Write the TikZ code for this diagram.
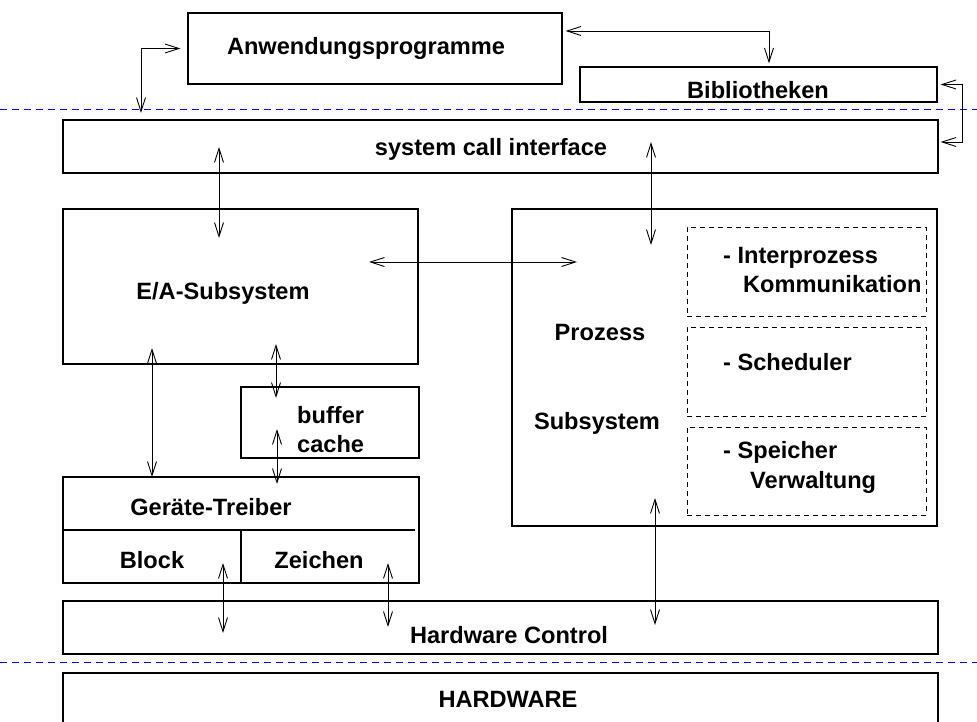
\documentclass[tikz,border=0pt]{standalone}
\usepackage{fontspec}
\setmainfont{Liberation Sans}
\usetikzlibrary{arrows.meta}

\tikzset{
  box/.style={draw, line width=1.2pt, inner sep=0, minimum width=#1},
  subbox/.style={draw, dashed, dash pattern=on 5pt off 4pt, line width=0.9pt, inner sep=0},
  txt/.style={inner sep=0, anchor=base, font=\bfseries\fontsize{23.6}{29}\selectfont},
  ltxt/.style={txt, anchor=base west},
  dbl/.style={{Straight Barb[length=14pt,width=9pt]}-{Straight Barb[length=14pt,width=9pt]}, line width=0.9pt},
  sep/.style={blue, line width=0.9pt, dash pattern=on 7pt off 5pt}
}

\begin{document}
\begin{tikzpicture}[x=1pt, y=-1pt]
    \useasboundingbox (0,0) rectangle (977,722);

    % boxes
    \node[box=374, minimum height=71] (anw) at (375,48.5) {};
    \node[box=357, minimum height=35] (bib) at (758.5,84.5) {};
    \node[box=875, minimum height=53] (sci) at (500.5,146.5) {};
    \node[box=355, minimum height=155] (ea) at (240.5,286.5) {};
    \node[box=425, minimum height=317] (proz) at (724.5,367.5) {};
    \node[subbox, minimum width=239, minimum height=89] (ipc) at (806.5,271.5) {};
    \node[subbox, minimum width=239, minimum height=89] (sched) at (806.5,371.5) {};
    \node[subbox, minimum width=239, minimum height=88] (mem) at (806.5,471) {};
    \node[box=178, minimum height=71] (buf) at (330,422.5) {};
    \node[box=356, minimum height=106] (drv) at (241,530) {};
    \node[box=875, minimum height=53] (hwc) at (500.5,627.5) {};
    \node[box=875, minimum height=80] (hw) at (500.5,713) {};

    \draw[line width=1.2pt] (drv.west) -- ++(353,0);
    \draw[line width=1.2pt] (drv.center) -- (drv.south);

    % texts
    \node[txt] (anw t) at (366,55) {Anwendungsprogramme};
    \node[txt] (bib t) at (758,99) {Bibliotheken};
    \node[txt] (sci t) at (491,156) {system call interface};
    \node[txt] (ea t) at (223,299) {E/A-Subsystem};
    \node[txt] (proz t1) at (600,340) {Prozess};
    \node[txt] (proz t2) at (597,429) {Subsystem};
    \node[ltxt] (ipc t1) at (723,263) {- Interprozess};
    \node[ltxt] (ipc t2) at (743,292) {Kommunikation};
    \node[ltxt] (sched t) at (723,370) {- Scheduler};
    \node[ltxt] (mem t1) at (723,458) {- Speicher};
    \node[ltxt] (mem t2) at (750,488) {Verwaltung};
    \node[ltxt] (buf t1) at (297,423) {buffer};
    \node[ltxt] (buf t2) at (297,452) {cache};
    \node[txt] (drv t) at (211,515) {Ger\"ate-Treiber};
    \node[txt] (blk t) at (152,568) {Block};
    \node[txt] (chr t) at (319,568) {Zeichen};
    \node[txt] (hwc t) at (509,643) {Hardware Control};
    \node[txt] (hw t) at (508,707) {HARDWARE};

    % separators
    \draw[sep] (0,109) -- (977,109);
    \draw[sep] (0,662) -- (977,662);

    % ends of the arrows inside the boxes
    \coordinate (sci ea) at (219,147);
    \coordinate (ea sci) at (219,238);
    \coordinate (sci proz) at (651,142);
    \coordinate (proz sci) at (651,245);
    \coordinate (ea proz) at (369,262);
    \coordinate (proz ea) at (577,262);
    \coordinate (ea drv) at (152,348);
    \coordinate (drv ea) at (152,477);
    \coordinate (ea buf) at (276,344);
    \coordinate (buf ea) at (276,398);
    \coordinate (buf drv) at (277,429);
    \coordinate (drv buf) at (277,484);
    \coordinate (blk hwc) at (223,563);
    \coordinate (hwc blk) at (223,633);
    \coordinate (chr hwc) at (388,563);
    \coordinate (hwc chr) at (388,627);
    \coordinate (proz hwc) at (655,498);
    \coordinate (hwc proz) at (655,625);
    \coordinate (sci anw) at (141,113);

    % arrows
    \draw[dbl] ([xshift=-7pt]anw.west) -| (sci anw);
    \draw[dbl] ([xshift=3pt]anw.east |- 0,31) -| ([shift={(10.5,-3)}]bib.north);
    \draw[dbl] ([xshift=3pt]bib.east) -- ++(22,0) |- ([shift={(2,-4.5)}]sci.east);
    \draw[dbl] (sci ea) -- (ea sci);
    \draw[dbl] (sci proz) -- (proz sci);
    \draw[dbl] (ea proz) -- (proz ea);
    \draw[dbl] (ea drv) -- (drv ea);
    \draw[dbl] (ea buf) -- (buf ea);
    \draw[dbl] (buf drv) -- (drv buf);
    \draw[dbl] (blk hwc) -- (hwc blk);
    \draw[dbl] (chr hwc) -- (hwc chr);
    \draw[dbl] (proz hwc) -- (hwc proz);
\end{tikzpicture}
\end{document}
